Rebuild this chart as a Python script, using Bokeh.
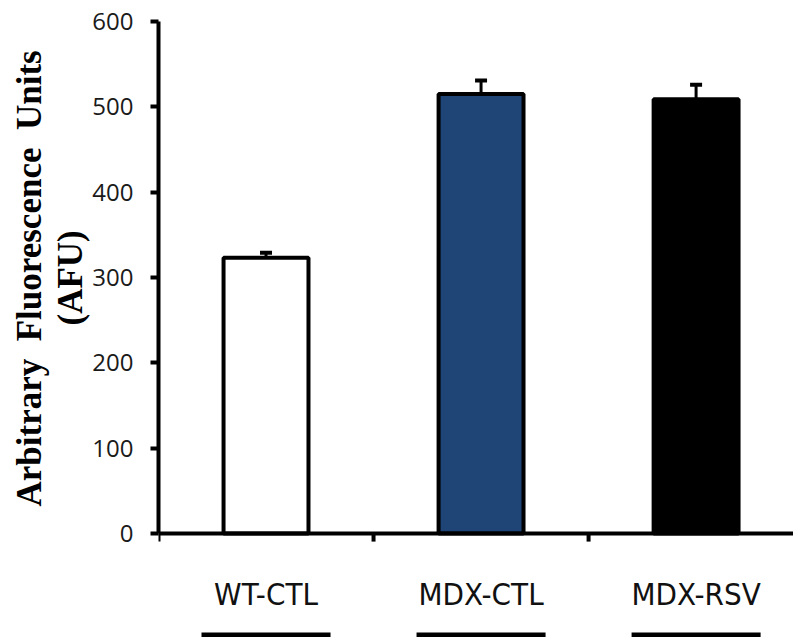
from bokeh.plotting import figure
from bokeh.models import (Range1d, FixedTicker, ColumnDataSource, Span, Whisker,
                          TeeHead, LinearAxis, Title)
from bokeh.core.properties import value
from bokeh.embed import file_html
from bokeh.resources import INLINE

# ---- data ----
categories = ["WT-CTL", "MDX-CTL", "MDX-RSV"]
afu_mean = [323, 515, 509]
afu_sem = [6, 16, 17]
y_ticks = [0, 100, 200, 300, 400, 500, 600]
y_title_1 = "Arbitrary\u00a0 Fluorescence\u00a0 Units"
y_title_2 = "(AFU)"

fill_colors = ["white", "#1f4576", "black"]
centers = [i + 0.5 for i in range(len(categories))]
bounds_x = [float(i) for i in range(len(categories))]

src = ColumnDataSource(dict(
    x=centers, top=afu_mean, upper=[m + s for m, s in zip(afu_mean, afu_sem)],
    color=fill_colors, label=categories))

p = figure(width=793, height=637, output_backend="svg", toolbar_location=None,
           x_range=Range1d(0, 2.953), y_range=Range1d(-121.9, 608.2),
           min_border_left=158, min_border_right=0, min_border_top=14,
           min_border_bottom=0, x_axis_location=None, y_axis_location=None)
p.outline_line_color = None
p.grid.visible = False
p.background_fill_color = "white"

yaxis = LinearAxis(bounds=(0, 600), ticker=FixedTicker(ticks=y_ticks))
yaxis.axis_line_width = 4
yaxis.axis_line_color = "black"
yaxis.major_tick_line_width = 4
yaxis.major_tick_out = 8
yaxis.major_tick_in = 0
yaxis.minor_tick_line_color = None
yaxis.major_label_text_font = "Open Sans"
yaxis.major_label_text_font_size = "24px"
yaxis.major_label_text_color = "#1a1a1a"
yaxis.major_label_standoff = 17
p.add_layout(yaxis, "left")

# y-axis title: two centred lines as side titles (offset from the frame bottom)
for txt, off in [(y_title_2, 312), (y_title_1, 131)]:
    p.add_layout(Title(text=txt, align="left", offset=off, standoff=0,
                       text_font="Liberation Serif", text_font_style="bold",
                       text_font_size="35px", text_color="black"), "left")

# bars
p.vbar(x="x", top="top", bottom=0, width=0.395, source=src,
       fill_color="color", line_color="black", line_width=4)

# error bars (upper only)
p.add_layout(Whisker(source=src, base="x", upper="upper", lower="top",
                     dimension="height", line_width=3, line_color="black",
                     upper_head=TeeHead(size=12, line_width=4, line_color="black"),
                     lower_head=None))

# x axis baseline and boundary ticks
p.add_layout(Span(location=0, dimension="width", line_color="black", line_width=4))
p.segment(x0=bounds_x, y0=[0] * len(bounds_x), x1=bounds_x, y1=[-9.5] * len(bounds_x),
          line_color="black", line_width=4)

# category labels
p.text(x="x", y=-71, text="label", source=src, text_align="center",
       text_baseline="middle",
       text_font=value("'DejaVu Sans Condensed', 'Liberation Sans', sans-serif"),
       text_font_size="31px", text_color="#111111")

# group underline bars
p.rect(x="x", y=-123, width=0.6, height=14, source=src,
       fill_color="black", line_color=None)

open("out.html", "w").write(file_html(p, INLINE))
